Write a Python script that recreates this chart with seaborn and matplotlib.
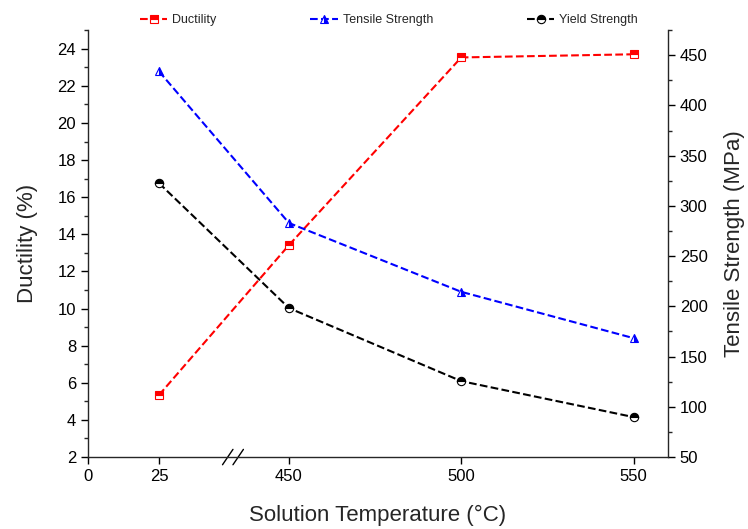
# -*- coding: utf-8 -*-
# Ductility / strength vs solution temperature, broken x axis

# %%
# * 1. Import packages
import numpy as np
import matplotlib
matplotlib.use("Agg")
import matplotlib.pyplot as plt
from matplotlib.ticker import MultipleLocator, FixedLocator
import seaborn as sns

# %%
# * 2. Data
temperature = [25, 450, 500, 550]
ductility = [5.34, 13.42, 23.53, 23.7]
tensile_strength = [434, 283, 214.5, 168.4]
yield_strength = [322.7, 198.3, 125.6, 89.8]
x_ticks = [0, 25, 450, 500, 550]

# %%
# * 3. Piecewise x scale (axis break between 25 and 450)
scale_x = [0, 25, 450, 560]
scale_u = [0, 71, 201, 580]


def forward(x):
    return np.interp(x, scale_x, scale_u)


def inverse(u):
    return np.interp(u, scale_u, scale_x)


# %%
# * 4. Plot
sns.set_style("ticks")
plt.rcParams["font.family"] = ["Liberation Sans", "DejaVu Sans"]

fig = plt.figure(figsize=(7.48, 5.29), dpi=100)
ax = fig.add_axes([0.1176, 0.136, 0.7754, 0.807])
ax2 = ax.twinx()

line_kw = dict(linestyle="--", linewidth=1.5, dashes=(4, 3),
               markersize=6, markeredgewidth=0.8,
               markerfacecoloralt="white")

sns.lineplot(x=temperature, y=ductility, ax=ax, color="red",
             marker="s", fillstyle="top", markeredgecolor="red",
             label="Ductility", legend=False, **line_kw)
sns.lineplot(x=temperature, y=tensile_strength, ax=ax2, color="blue",
             marker="^", fillstyle="right", markeredgecolor="blue",
             label="Tensile Strength", legend=False, **line_kw)
sns.lineplot(x=temperature, y=yield_strength, ax=ax2, color="black",
             marker="o", fillstyle="top", markeredgecolor="black",
             label="Yield Strength", legend=False, **line_kw)

for a in (ax, ax2):
    a.set_xscale("function", functions=(forward, inverse))
    a.set_xlim(0, 560)
    a.spines["top"].set_visible(False)
    for s in a.spines.values():
        s.set_linewidth(1.0)

ax.spines["right"].set_visible(False)
ax2.spines["left"].set_visible(False)
ax2.spines["bottom"].set_visible(False)

ax.xaxis.set_major_locator(FixedLocator(x_ticks))
ax.xaxis.set_minor_locator(FixedLocator([]))
ax.set_ylim(2, 25)
ax.yaxis.set_major_locator(MultipleLocator(2))
ax.yaxis.set_minor_locator(MultipleLocator(1))
ax2.set_ylim(50, 475)
ax2.yaxis.set_major_locator(MultipleLocator(50))
ax2.yaxis.set_minor_locator(MultipleLocator(25))

for a in (ax, ax2):
    a.tick_params(which="major", direction="out", length=5, width=1.0,
                  labelsize=12, colors="black")
    a.tick_params(which="minor", direction="out", length=3, width=1.0)

ax.set_xlabel("Solution Temperature (\u00b0C)", fontsize=16, labelpad=15)
ax.set_ylabel("Ductility (%)", fontsize=16, labelpad=14)
ax2.set_ylabel("Tensile Strength (MPa)", fontsize=16, labelpad=12)

# break marks on the x axis
bx = 145 / 580
for off in (-0.009, 0.009):
    ax.plot([bx + off - 0.009, bx + off + 0.009], [-0.018, 0.018],
            transform=ax.transAxes, color="black", linewidth=1.0,
            clip_on=False)

handles = ax.get_lines()[:1] + ax2.get_lines()[:2]
fig.legend(handles, [h.get_label() for h in handles], loc="upper center",
           bbox_to_anchor=(0.52, 0.995), ncol=3, frameon=False, fontsize=9,
           columnspacing=7.5, handlelength=2.2, handletextpad=0.4)

fig.savefig("out.png", dpi=100)
